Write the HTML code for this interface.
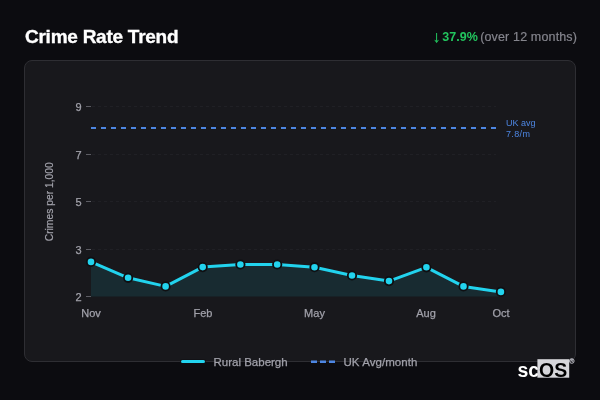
<!DOCTYPE html>
<html>
<head>
<meta charset="utf-8">
<style>
html,body{margin:0;padding:0;width:600px;height:400px;overflow:hidden;background:#0c0c10;}
body{position:relative;font-family:"Liberation Sans",sans-serif;}
.card{position:absolute;left:24px;top:60px;width:550px;height:300px;background:#18181c;border:1px solid #2e2e33;border-radius:8px;}
svg{position:absolute;left:0;top:0;will-change:transform;}
</style>
</head>
<body>
<div class="card"></div>
<svg width="600" height="400" viewBox="0 0 600 400" font-family="Liberation Sans">
  <!-- header -->
  <text x="25" y="43.1" font-size="19" font-weight="bold" fill="#ffffff" stroke="#ffffff" stroke-width="0.35" letter-spacing="-0.25">Crime Rate Trend</text>
  <g stroke="#22c55e" stroke-width="1" fill="none">
    <line x1="436.6" y1="33" x2="436.6" y2="42.3"/>
    <polyline points="434.8,39.9 436.6,42.5 438.4,39.9" stroke-linejoin="miter"/>
  </g>
  <text x="442.3" y="41" font-size="12.5" font-weight="bold" fill="#22c55e">37.9%</text>
  <text x="480.2" y="41" font-size="12.5" fill="#85858d" stroke="#85858d" stroke-width="0.2" letter-spacing="0.15">(over 12 months)</text>

  <!-- grid -->
  <g stroke="#202025" stroke-width="1" stroke-dasharray="3 3">
    <line x1="92" y1="106.5" x2="496" y2="106.5"/>
    <line x1="92" y1="154.5" x2="496" y2="154.5"/>
    <line x1="92" y1="201.5" x2="496" y2="201.5"/>
    <line x1="92" y1="249.5" x2="496" y2="249.5"/>
  </g>
  <g stroke="#5c5c63" stroke-width="1">
    <line x1="86" y1="106.5" x2="91" y2="106.5"/>
    <line x1="86" y1="154.5" x2="91" y2="154.5"/>
    <line x1="86" y1="201.5" x2="91" y2="201.5"/>
    <line x1="86" y1="249.5" x2="91" y2="249.5"/>
    <line x1="86" y1="296.5" x2="91" y2="296.5"/>
  </g>
  <g font-size="11" fill="#a1a1aa" stroke="#a1a1aa" stroke-width="0.25" text-anchor="end">
    <text x="81.5" y="110.5">9</text>
    <text x="81.5" y="158.5">7</text>
    <text x="81.5" y="205.5">5</text>
    <text x="81.5" y="253.5">3</text>
    <text x="81.5" y="300.7">2</text>
  </g>
  <text transform="translate(53,201.8) rotate(-90)" font-size="10.3" fill="#a1a1aa" stroke="#a1a1aa" stroke-width="0.2" text-anchor="middle">Crimes per 1,000</text>
  <g font-size="11" fill="#a1a1aa" stroke="#a1a1aa" stroke-width="0.25" text-anchor="middle">
    <text x="91" y="317">Nov</text>
    <text x="203" y="317">Feb</text>
    <text x="314.5" y="317">May</text>
    <text x="426" y="317">Aug</text>
    <text x="501" y="317">Oct</text>
  </g>

  <!-- UK avg -->
  <line x1="91" y1="128" x2="496" y2="128" stroke="#4d86e2" stroke-width="2" stroke-dasharray="5 5"/>
  <g font-size="9" fill="#4d86e2">
    <text x="506" y="126">UK avg</text>
    <text x="506" y="137" letter-spacing="0.35">7.8/m</text>
  </g>

  <!-- series -->
  <path d="M91,296.5 L91,261.9 L128.1,277.8 L165.6,286.4 L202.7,267.1 L240.4,264.5 L277.2,264.5 L314.5,267.2 L352,275.5 L389,281.1 L426.4,267.3 L463.5,286.4 L500.9,291.9 L500.9,296.5 Z" fill="#22d3ee" fill-opacity="0.10"/>
  <path d="M91,261.9 L128.1,277.8 L165.6,286.4 L202.7,267.1 L240.4,264.5 L277.2,264.5 L314.5,267.2 L352,275.5 L389,281.1 L426.4,267.3 L463.5,286.4 L500.9,291.9" fill="none" stroke="#22d3ee" stroke-width="3" stroke-linejoin="round"/>
  <g fill="#22d3ee" stroke="#0f0f12" stroke-width="1.8">
    <circle cx="91" cy="261.9" r="4.2"/>
    <circle cx="128.1" cy="277.8" r="4.2"/>
    <circle cx="165.6" cy="286.4" r="4.2"/>
    <circle cx="202.7" cy="267.1" r="4.2"/>
    <circle cx="240.4" cy="264.5" r="4.2"/>
    <circle cx="277.2" cy="264.5" r="4.2"/>
    <circle cx="314.5" cy="267.2" r="4.2"/>
    <circle cx="352" cy="275.5" r="4.2"/>
    <circle cx="389" cy="281.1" r="4.2"/>
    <circle cx="426.4" cy="267.3" r="4.2"/>
    <circle cx="463.5" cy="286.4" r="4.2"/>
    <circle cx="500.9" cy="291.9" r="4.2"/>
  </g>

  <!-- legend -->
  <line x1="182.5" y1="361.5" x2="203.5" y2="361.5" stroke="#101013" stroke-width="5" stroke-linecap="round" opacity="0.6"/>
  <line x1="182.5" y1="361.5" x2="203.5" y2="361.5" stroke="#22d3ee" stroke-width="3" stroke-linecap="round"/>
  <line x1="311" y1="361.7" x2="335" y2="361.7" stroke="#4d86e2" stroke-width="2.4" stroke-dasharray="6 3"/>
  <g font-size="11.5" fill="#a1a1aa" stroke="#a1a1aa" stroke-width="0.25">
    <text x="213.5" y="365.8">Rural Babergh</text>
    <text x="343.5" y="365.8" letter-spacing="0.05">UK Avg/month</text>
  </g>

  <!-- logo -->
  <text x="517.4" y="377" font-size="19.5" font-weight="bold" fill="#ffffff">sc</text>
  <rect x="537.4" y="359.2" width="31.8" height="18.5" fill="#d6d6da"/>
  <text x="539" y="377" font-size="19.5" font-weight="bold" fill="#000000">OS</text>
  <circle cx="571.8" cy="361" r="2.3" fill="none" stroke="#d0d0d8" stroke-width="0.9"/>
  <text x="571.8" y="362.4" font-size="3.6" font-weight="bold" fill="#d0d0d8" text-anchor="middle">R</text>
</svg>
</body>
</html>
